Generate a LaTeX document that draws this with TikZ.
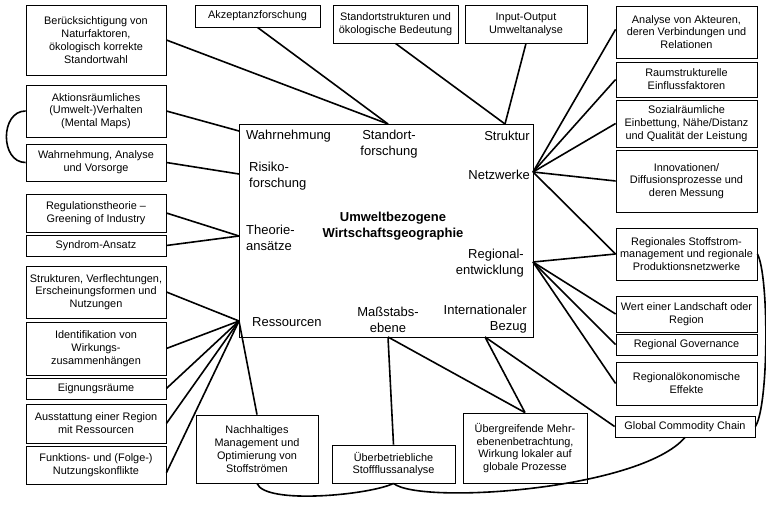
\documentclass[tikz,border=0pt]{standalone}
\usepackage{fontspec}
\setmainfont{Liberation Sans}
\usetikzlibrary{calc}
\begin{document}
\begin{tikzpicture}[x=1pt,y=-1pt,
  box/.style={draw, line width=0.8pt, align=center, inner sep=1pt, font=\fontsize{10.9}{12.8}\selectfont},
  lbl/.style={inner sep=0pt, font=\fontsize{13}{16}\selectfont},
  conn/.style={line width=1.6pt}]
\fill[white] (0,0) rectangle (766,505);
\useasboundingbox (0,0) rectangle (766,505);

% central frame
\node[draw, line width=0.9pt, minimum width=294, minimum height=213, inner sep=0pt] (frame) at (386,230.5) {};
\node[lbl, anchor=west] (wahr) at (246,136) {Wahrnehmung};
\node[lbl, align=center] (stand) at (389,144) {Standort-\\forschung};
\node[lbl, anchor=east] (strukt) at (530,136) {Struktur};
\node[lbl, align=left, anchor=west] (risk) at (249,176) {Risiko-\\forschung};
\node[lbl, anchor=east] (netz) at (530,175) {Netzwerke};
\node[lbl, align=center, font=\fontsize{13}{16}\selectfont\bfseries] (title) at (393,226.5) {Umweltbezogene\\Wirtschaftsgeographie};
\node[lbl, align=left, anchor=west] (theo) at (246,238) {Theorie-\\ansätze};
\node[lbl, align=right, anchor=east] (regl) at (524,263) {Regional-\\entwicklung};
\node[lbl, anchor=west] (ress) at (252,322) {Ressourcen};
\node[lbl, align=center] (mass) at (388,319.5) {Maßstabs-\\ebene};
\node[lbl, align=right, anchor=east] (intl) at (527,319.5) {Internationaler\\Bezug};

\coordinate (cStand) at (388,124);
\coordinate (cStrukt) at (505,124);
\coordinate (cWahr) at (239,131);
\coordinate (cRisk) at (239,174);
\coordinate (cTheo) at (239,236);
\coordinate (cRess) at (239,321);
\coordinate (cNetz) at (533,172);
\coordinate (cReg) at (533,262);
\coordinate (cMass) at (388,337);
\coordinate (cIntl) at (485,337);

% left column
\node[box, minimum width=140, minimum height=70] (b1) at (96,40) {Berücksichtigung von\\Naturfaktoren,\\ökologisch korrekte\\Standortwahl};
\node[box, minimum width=140, minimum height=52] (b2) at (96,111) {Aktionsräumliches\\(Umwelt-)Verhalten\\(Mental Maps)};
\node[box, minimum width=140, minimum height=37] (b3) at (96,162.5) {Wahrnehmung, Analyse\\und Vorsorge};
\node[box, minimum width=140, minimum height=38] (b4) at (96,213) {Regulationstheorie --\\Greening of Industry};
\node[box, minimum width=140, minimum height=21] (b5) at (96,245.5) {Syndrom-Ansatz};
\node[box, minimum width=140, minimum height=52] (b6) at (96,292) {Strukturen, Verflechtungen,\\Erscheinungsformen und\\Nutzungen};
\node[box, minimum width=140, minimum height=53] (b7) at (96,348.5) {Identifikation von\\Wirkungs-\\zusammenhängen};
\node[box, minimum width=140, minimum height=21] (b8) at (96,388.5) {Eignungsräume};
\node[box, minimum width=140, minimum height=39] (b9) at (96,423.5) {Ausstattung einer Region\\mit Ressourcen};
\node[box, minimum width=140, minimum height=38] (b10) at (96,465) {Funktions- und (Folge-)\\Nutzungskonflikte};

% top
\node[box, minimum width=125, minimum height=22] (t1) at (257.5,16) {Akzeptanzforschung};
\node[box, minimum width=125, minimum height=38] (t2) at (395.5,24) {Standortstrukturen und\\ökologische Bedeutung};
\node[box, minimum width=122, minimum height=38] (t3) at (526,24) {Input-Output\\Umweltanalyse};

% right column
\node[box, minimum width=141, minimum height=52] (r1) at (686.5,32) {Analyse von Akteuren,\\deren Verbindungen und\\Relationen};
\node[box, minimum width=141, minimum height=35] (r2) at (686.5,79.5) {Raumstrukturelle\\Einflussfaktoren};
\node[box, minimum width=141, minimum height=47] (r3) at (686.5,123.5) {Sozialräumliche\\Einbettung, Nähe/Distanz\\und Qualität der Leistung};
\node[box, minimum width=141, minimum height=62] (r4) at (686.5,181) {Innovationen/\\Diffusionsprozesse und\\deren Messung};
\node[box, minimum width=141, minimum height=52] (r5) at (686.5,254) {Regionales Stoffstrom-\\management und regionale\\Produktionsnetzwerke};
\node[box, minimum width=141, minimum height=36] (r6) at (686.5,314) {Wert einer Landschaft oder\\Region};
\node[box, minimum width=141, minimum height=21] (r7) at (686.5,344.5) {Regional Governance};
\node[box, minimum width=141, minimum height=43] (r8) at (686.5,383.5) {Regionalökonomische\\Effekte};
\node[box, minimum width=140, minimum height=21] (r9) at (685,426.5) {Global Commodity Chain};

% bottom
\node[box, minimum width=122, minimum height=68] (u1) at (257,449) {Nachhaltiges\\Management und\\Optimierung von\\Stoffströmen};
\node[box, minimum width=123, minimum height=38] (u2) at (393.5,464) {Überbetriebliche\\Stoffflussanalyse};
\node[box, minimum width=124, minimum height=70] (u3) at (525,448) {Übergreifende Mehr-\\ebenenbetrachtung,\\Wirkung lokaler auf\\globale Prozesse};

% connectors
\draw[conn] (b1.east) -- (cStand);
\draw[conn] (t1.south) -- (cStand);
\draw[conn] (t2.south) -- (cStrukt);
\draw[conn] (t3.south) -- (cStrukt);
\draw[conn] (b2.east) -- (cWahr);
\draw[conn] (b3.east) -- (cRisk);
\draw[conn] (b4.east) -- (cTheo);
\draw[conn] (b5.east) -- (cTheo);
\draw[conn] (b6.east) -- (cRess);
\draw[conn] (b7.east) -- (cRess);
\draw[conn] (b8.east) -- (cRess);
\draw[conn] (b9.east) -- (cRess);
\draw[conn] ($(b10.south east)!0.3!(b10.north east)$) -- (cRess);
\draw[conn] (u1.north) -- (cRess);
\draw[conn] ($(r1.south west)!0.55!(r1.north west)$) -- (cNetz);
\draw[conn] (r2.west) -- (cNetz);
\draw[conn] (r3.west) -- (cNetz);
\draw[conn] (r4.west) -- (cNetz);
\draw[conn] (r5.west) -- (cNetz);
\draw[conn] (r5.west) -- (cReg);
\draw[conn] (r6.west) -- (cReg);
\draw[conn] (r7.west) -- (cReg);
\draw[conn] (r8.west) -- (cReg);
\draw[conn] (cMass) -- (u2.north);
\draw[conn] (cMass) -- (u3.north);
\draw[conn] (cIntl) -- (u3.north);
\draw[conn] (cIntl) -- (r9.west);

% curved links
\draw[conn] (b2.west) .. controls (0,111) and (0,162.5) .. (b3.west);
\draw[conn] (r5.east) .. controls (769,275) and (769,405) .. (r9.east);
\draw[conn] (u1.south) .. controls (265,505) and (370,495) .. (u2.south);
\draw[conn] (u2.south) .. controls (420,505) and (640,490) .. (r9.south);
\end{tikzpicture}
\end{document}
